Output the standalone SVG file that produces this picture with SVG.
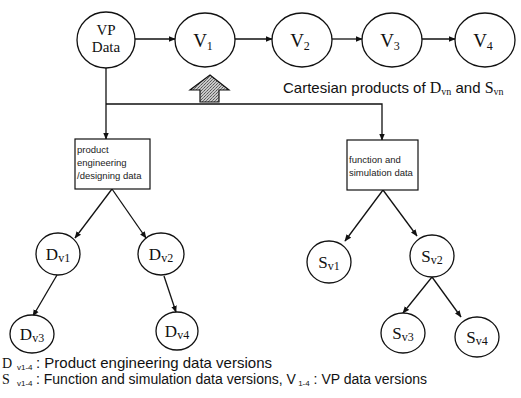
<svg xmlns="http://www.w3.org/2000/svg" width="521" height="398" viewBox="0 0 521 398">
  <style>
    .node { fill: #fff; stroke: #111; stroke-width: 1.3; }
    .box { fill: #fff; stroke: #111; stroke-width: 1.2; }
    .edge { fill: none; stroke: #111; stroke-width: 1.3; }
    .lbl { font-family: "Liberation Serif", "Times New Roman", serif; fill: #111; text-anchor: middle; }
    .big { font-size: 19px; }
    .mid { font-size: 17px; }
    .sub { font-size: 12px; }
    .boxtxt { font-family: "Liberation Sans", Arial, sans-serif; font-size: 9.5px; fill: #222; }
    .note { font-family: "Liberation Sans", Arial, sans-serif; font-size: 14px; fill: #111; }
    .caption { font-size: 15px; }
    .serif { font-family: "Liberation Serif", "Times New Roman", serif; }
  </style>
  <defs>
    <marker id="arr" viewBox="0 0 10 10" refX="9" refY="5" markerWidth="7" markerHeight="7" markerUnits="userSpaceOnUse" orient="auto">
      <path d="M0,1 L10,5 L0,9 Z" fill="#111"/>
    </marker>
    <pattern id="stipple" width="3" height="3" patternUnits="userSpaceOnUse">
      <rect width="3" height="3" fill="#c8c8c8"/>
      <rect x="0" y="0" width="1" height="1" fill="#555"/>
      <rect x="2" y="1" width="1" height="1" fill="#777"/>
      <rect x="1" y="2" width="1" height="1" fill="#666"/>
    </pattern>
  </defs>

  <!-- connectors -->
  <g id="connectors">
    <line class="edge" x1="135" y1="39" x2="175" y2="39" marker-end="url(#arr)"/>
    <line class="edge" x1="235" y1="39" x2="272" y2="39" marker-end="url(#arr)"/>
    <line class="edge" x1="332" y1="39" x2="362" y2="39" marker-end="url(#arr)"/>
    <line class="edge" x1="422" y1="39" x2="455" y2="39" marker-end="url(#arr)"/>
    <polyline class="edge" points="106,68 106,139" marker-end="url(#arr)"/>
    <polyline class="edge" points="106,104 382,104 382,140" marker-end="url(#arr)"/>
    <line class="edge" x1="112" y1="189" x2="75" y2="238" marker-end="url(#arr)"/>
    <line class="edge" x1="112" y1="189" x2="146" y2="238" marker-end="url(#arr)"/>
    <line class="edge" x1="57" y1="275" x2="33" y2="316" marker-end="url(#arr)"/>
    <line class="edge" x1="164" y1="276" x2="176" y2="312" marker-end="url(#arr)"/>
    <line class="edge" x1="383" y1="190" x2="345" y2="241" marker-end="url(#arr)"/>
    <line class="edge" x1="383" y1="190" x2="417" y2="236" marker-end="url(#arr)"/>
    <line class="edge" x1="432" y1="277" x2="403" y2="313" marker-end="url(#arr)"/>
    <line class="edge" x1="432" y1="277" x2="461" y2="317" marker-end="url(#arr)"/>
  </g>

  <!-- version chain -->
  <g id="vp-data">
    <ellipse class="node" cx="106" cy="40" rx="29" ry="28"/>
    <text class="lbl" x="106" y="35" font-size="15">VP</text>
    <text class="lbl" x="106" y="52" font-size="15">Data</text>
  </g>
  <g id="v1">
    <ellipse class="node" cx="205" cy="40" rx="30" ry="27"/>
    <text class="lbl big" x="203" y="47">V<tspan class="sub" dy="3">1</tspan></text>
  </g>
  <g id="v2">
    <ellipse class="node" cx="302" cy="40" rx="30" ry="27"/>
    <text class="lbl big" x="300" y="47">V<tspan class="sub" dy="3">2</tspan></text>
  </g>
  <g id="v3">
    <ellipse class="node" cx="392" cy="40" rx="30" ry="27"/>
    <text class="lbl big" x="390" y="47">V<tspan class="sub" dy="3">3</tspan></text>
  </g>
  <g id="v4">
    <ellipse class="node" cx="485" cy="40" rx="30" ry="27"/>
    <text class="lbl big" x="483" y="47">V<tspan class="sub" dy="3">4</tspan></text>
  </g>

  <!-- combining arrow and caption -->
  <g id="cartesian">
    <path d="M210,75 L229,90 L219,90 L219,102 L200,102 L200,90 L190,90 Z" fill="url(#stipple)" stroke="#111" stroke-width="1.2"/>
    <text class="note caption" x="283" y="93">Cartesian products of <tspan class="serif" font-size="16">D</tspan><tspan class="serif" font-size="10" dy="2">vn</tspan><tspan dy="-2"> and </tspan><tspan class="serif" font-size="16">S</tspan><tspan class="serif" font-size="10" dy="2">vn</tspan></text>
  </g>

  <!-- data category boxes -->
  <g id="product-box">
    <rect class="box" x="75" y="139" width="75" height="50"/>
    <text class="boxtxt" x="77" y="153">product</text>
    <text class="boxtxt" x="77" y="166">engineering</text>
    <text class="boxtxt" x="77" y="179">/designing data</text>
  </g>
  <g id="function-box">
    <rect class="box" x="347" y="140" width="71" height="50"/>
    <text class="boxtxt" x="349" y="163">function and</text>
    <text class="boxtxt" x="349" y="176">simulation data</text>
  </g>

  <!-- product data versions -->
  <g id="dv1">
    <ellipse class="node" cx="58" cy="254" rx="22" ry="21"/>
    <text class="lbl mid" x="58" y="260">D<tspan class="sub" dy="2">v1</tspan></text>
  </g>
  <g id="dv2">
    <ellipse class="node" cx="161" cy="254" rx="23" ry="21"/>
    <text class="lbl mid" x="161" y="260">D<tspan class="sub" dy="2">v2</tspan></text>
  </g>
  <g id="dv3">
    <ellipse class="node" cx="32" cy="334" rx="22" ry="19"/>
    <text class="lbl mid" x="32" y="340">D<tspan class="sub" dy="2">v3</tspan></text>
  </g>
  <g id="dv4">
    <ellipse class="node" cx="177" cy="331" rx="21" ry="19"/>
    <text class="lbl mid" x="177" y="337">D<tspan class="sub" dy="2">v4</tspan></text>
  </g>

  <!-- simulation data versions -->
  <g id="sv1">
    <ellipse class="node" cx="329" cy="262" rx="22" ry="21"/>
    <text class="lbl mid" x="329" y="268">S<tspan class="sub" dy="2">v1</tspan></text>
  </g>
  <g id="sv2">
    <ellipse class="node" cx="432" cy="256" rx="22" ry="21"/>
    <text class="lbl mid" x="432" y="262">S<tspan class="sub" dy="2">v2</tspan></text>
  </g>
  <g id="sv3">
    <ellipse class="node" cx="403" cy="333" rx="22" ry="20"/>
    <text class="lbl mid" x="403" y="339">S<tspan class="sub" dy="2">v3</tspan></text>
  </g>
  <g id="sv4">
    <ellipse class="node" cx="477" cy="337" rx="22" ry="20"/>
    <text class="lbl mid" x="477" y="343">S<tspan class="sub" dy="2">v4</tspan></text>
  </g>

  <!-- legend -->
  <g id="legend">
    <text class="note" x="2" y="368"><tspan class="serif" font-size="14">D</tspan><tspan font-size="8" x="17" dy="2">v1-4</tspan><tspan x="36" dy="-2" font-size="15">: Product engineering data versions</tspan></text>
    <text class="note" x="2" y="384"><tspan class="serif" font-size="14">S</tspan><tspan font-size="8" x="17" dy="2">v1-4</tspan><tspan x="36" dy="-2">: Function and simulation data versions, V</tspan><tspan font-size="8" dy="2"> 1-4</tspan><tspan dy="-2"> :  VP data versions</tspan></text>
  </g>
</svg>
